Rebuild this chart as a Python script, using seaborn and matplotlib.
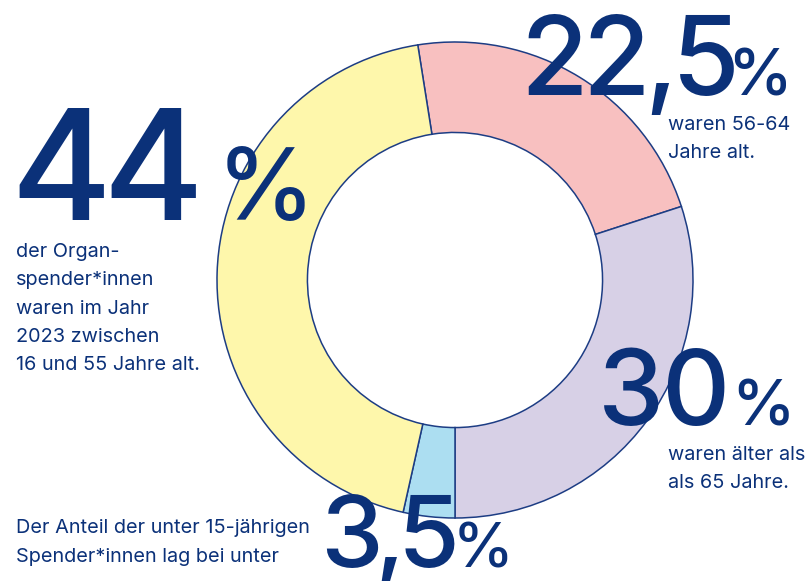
import matplotlib
matplotlib.use("Agg")
import matplotlib.pyplot as plt
import seaborn as sns
from matplotlib.font_manager import FontProperties

# ---- data ----
groups = ["56-64 Jahre", "über 65 Jahre", "unter 15 Jahre", "16-55 Jahre"]
shares = [22.5, 30.0, 3.5, 44.0]
colors = ["#f8c0c0", "#d7d0e6", "#acdef1", "#fef7ab"]

big_numbers = ["22,5", "30", "3,5", "44"]
captions = [
    ["waren 56-64", "Jahre alt."],
    ["waren älter als", "als 65 Jahre."],
    ["Der Anteil der unter 15-jährigen", "Spender*innen lag bei unter"],
    ["der Organ-", "spender*innen", "waren im Jahr", "2023 zwischen", "16 und 55 Jahre alt."],
]

sns.set_theme(style="white")
plt.rcParams["font.family"] = ["Inter", "DejaVu Sans"]

W, H = 807, 581
NAVY = "#0b3179"
EDGE = "#1d3d84"

fig = plt.figure(figsize=(W / 100, H / 100), dpi=100)
fig.patch.set_facecolor("white")

cx, cy, R = 455, 280, 238
ax = fig.add_axes([(cx - R) / W, (H - cy - R) / H, 2 * R / W, 2 * R / H])
ax.pie(shares, colors=sns.color_palette(colors), startangle=99, counterclock=False,
       radius=1.0, wedgeprops=dict(width=0.38, edgecolor=EDGE, linewidth=1.1))
ax.set_xlim(-1.0, 1.0)
ax.set_ylim(-1.0, 1.0)
ax.set_aspect("equal")
ax.axis("off")

renderer = fig.canvas.get_renderer()


def ftext(x, y, s, prop, ha="left"):
    fig.text(x / W, 1 - y / H, s, fontproperties=prop, color=NAVY, va="baseline",
             ha=ha, zorder=5)


def big_prop(size):
    return FontProperties(family="Inter", weight=500, size=size)


def tracked(x_left, y, s, size, track_em):
    prop = big_prop(size)
    em = size * 100 / 72
    for i, ch in enumerate(s):
        w = renderer.get_text_width_height_descent(s[:i], prop, ismath=False)[0] if i else 0.0
        ftext(x_left + w + i * track_em * em, y, ch, prop)


# big numbers with % signs: (left x, baseline, size, tracking, pct_x, pct_size)
layout = [
    (520, 95, 79, -0.052, 727, 47),
    (598, 425, 76, -0.03, 731, 46),
    (320, 567, 72, -0.075, 453, 44),
    (10, 220, 111, -0.058, 217, 71),
]
for num, (x, y, s, tr, px_, ps) in zip(big_numbers, layout):
    tracked(x, y, num, s, tr)
    ftext(px_, y, "%", big_prop(ps))

# captions: (x, first baseline, spacing)
cap_layout = [
    (668, 130, 27.5),
    (668, 460, 28),
    (16, 533, 28.5),
    (16, 257, 28.3),
]
cap_prop = FontProperties(family="Inter", weight=400, size=14.3)
for lines, (x, y0, dy) in zip(captions, cap_layout):
    for i, line in enumerate(lines):
        ftext(x, y0 + i * dy, line, cap_prop)

fig.savefig("out.png", dpi=100, facecolor="white")
